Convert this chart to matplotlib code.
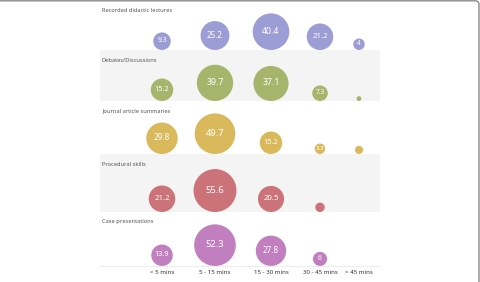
import numpy as np
import matplotlib
matplotlib.use("Agg")
import matplotlib.pyplot as plt
from matplotlib.patches import Circle, Rectangle, FancyBboxPatch

# Données (% des répondants par durée)
durees = ["< 5 mins", "5 - 15 mins", "15 - 30 mins", "30 - 45 mins", "> 45 mins"]
activites = ["Recorded didactic lectures", "Debates/Discussions",
             "Journal article summaries", "Procedural skills", "Case presentations"]
lectures = [9.3, 25.2, 40.4, 21.2, 4]
debats = [15.2, 39.7, 37.1, 7.3, 0.7]
articles = [29.8, 49.7, 15.2, 3.3, 2.0]
gestes = [21.2, 55.6, 20.5, 2.7, 0]
cas = [13.9, 52.3, 27.8, 6, 0]
series = [lectures, debats, articles, gestes, cas]
couleurs = ["#9d9dd6", "#a7b56c", "#d9b95c", "#cc7379", "#c27fbf"]

# Mise en page (pixels)
W, H = 481, 282
col_x = [162, 215, 271, 320, 359]
bandes = [0, 50, 101, 154, 212, 266]
x0, x1 = 100, 380
k = 2.88  # rayon = k * sqrt(valeur)

fig = plt.figure(figsize=(W / 100, H / 100), dpi=100)
ax = fig.add_axes([0, 0, 1, 1])
ax.set_xlim(0, W)
ax.set_ylim(H, 0)
ax.set_aspect("equal")
ax.axis("off")

for i, (nom, vals, c) in enumerate(zip(activites, series, couleurs)):
    haut, bas = bandes[i], bandes[i + 1]
    if i % 2 == 1:
        ax.add_patch(Rectangle((x0, haut), x1 - x0, bas - haut, color="#f4f4f4", lw=0, zorder=0))
    ax.text(x0 + 2, haut + 10, nom, fontsize=4.1, color="#555555", family="Noto Sans",
            va="center", ha="left")
    for x, v in zip(col_x, vals):
        if v <= 0:
            continue
        r = k * np.sqrt(v)
        ax.add_patch(Circle((x, bas - r), r, color=c, lw=0, zorder=2))
        if v >= 3:
            fs = 3.6 + 0.15 * r
            lab = f"{v:g}"
            ax.text(x, bas - r - 0.5, lab, fontsize=fs, color="white", family="Noto Sans",
                    ha="center", va="center", zorder=3)

ax.plot([x0, x1], [bandes[-1], bandes[-1]], color="#eeeeee", lw=0.8)
for x, d in zip(col_x, durees):
    ax.text(x, 273, d, fontsize=4.4, color="#333333", family="Noto Sans",
            ha="center", va="center")

# cadre arrondi (bord gauche hors image)
ax.add_patch(FancyBboxPatch((-30, 0.8), W + 28, H + 20, boxstyle="round,pad=0,rounding_size=4",
                            fill=False, ec="#8a8a8a", lw=1.0, zorder=5, clip_on=True))

fig.savefig("out.png", dpi=100)
